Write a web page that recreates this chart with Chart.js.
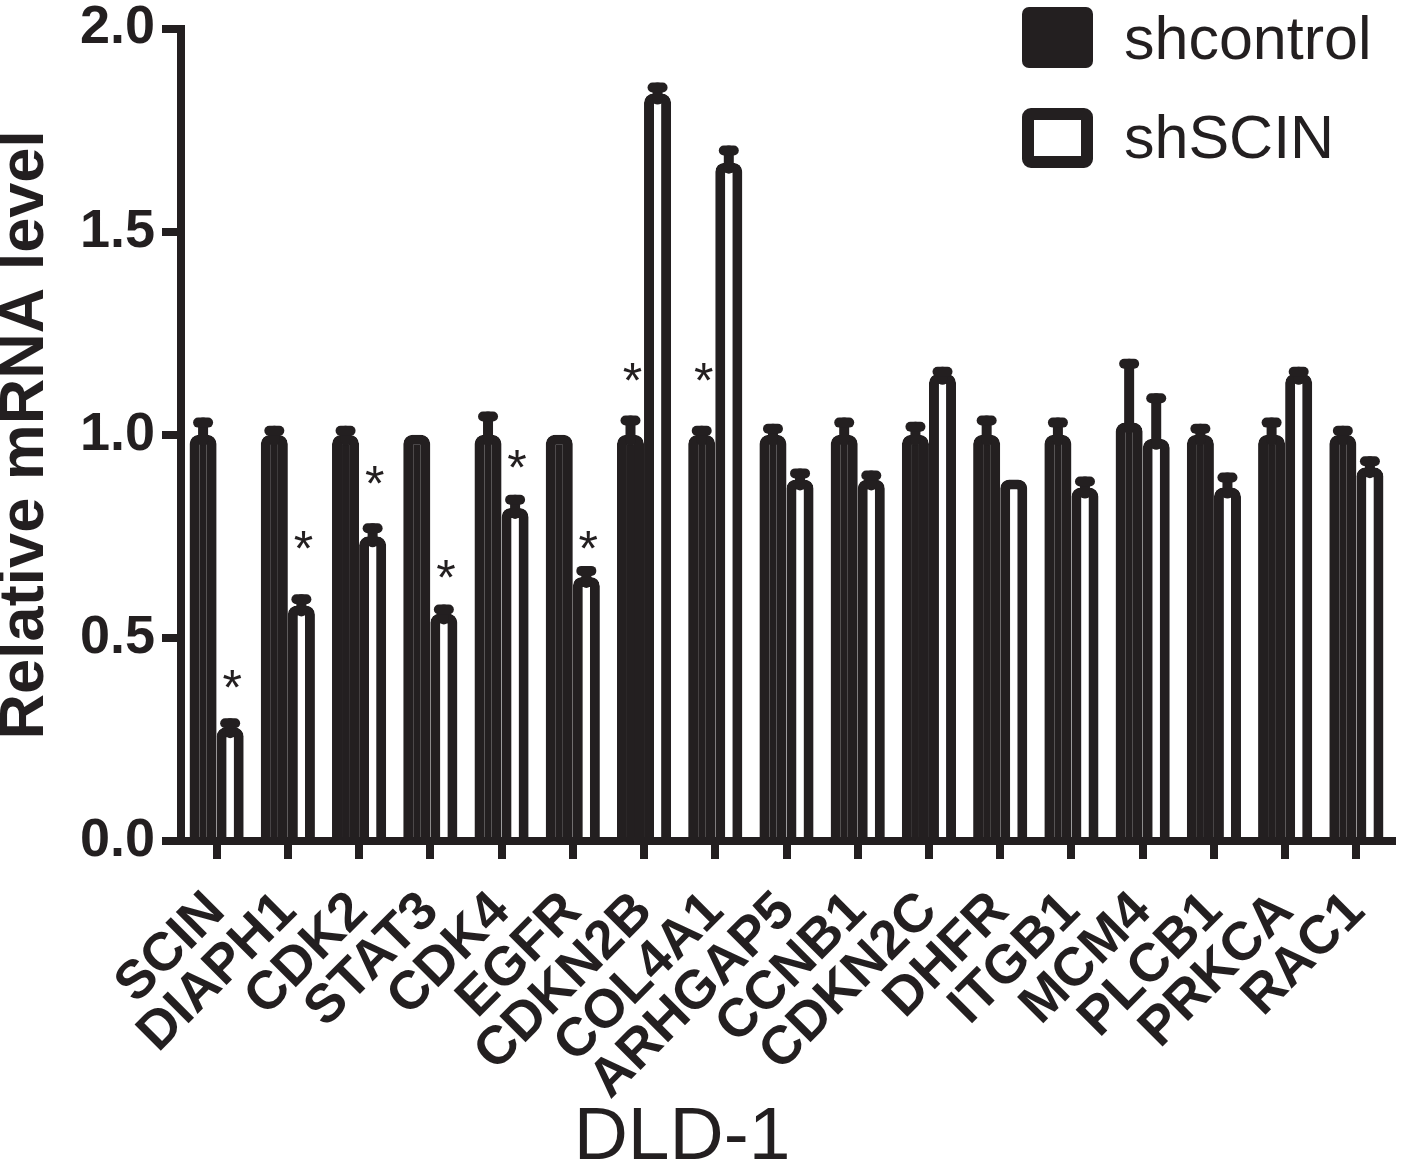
<!DOCTYPE html>
<html>
<head>
<meta charset="utf-8">
<script src="https://cdn.jsdelivr.net/npm/chart.js@4.4.1/dist/chart.umd.min.js"></script>
<style>
  html, body { margin: 0; padding: 0; background: #fff; }
  #wrap { position: relative; width: 1417px; height: 1161px; }
</style>
</head>
<body>
<div id="wrap"><canvas id="myChart"></canvas></div>
<script>
// values (relative mRNA level, DLD-1 cells)
const genes = ['SCIN', 'DIAPH1', 'CDK2', 'STAT3', 'CDK4', 'EGFR', 'CDKN2B', 'COL4A1', 'ARHGAP5',
  'CCNB1', 'CDKN2C', 'DHFR', 'ITGB1', 'MCM4', 'PLCB1', 'PRKCA', 'RAC1'];
const shcontrol = [1.0, 1.0, 1.0, 1.0, 1.0, 1.0, 1.0, 1.0, 1.0, 1.0, 1.0, 1.0, 1.0, 1.03, 1.0, 1.0, 1.0];
const shcontrolErr = [0.03, 0.01, 0.01, 0, 0.045, 0, 0.035, 0.01, 0.015, 0.03, 0.02, 0.035, 0.03, 0.145, 0.015, 0.03, 0.01];
const shSCIN = [0.28, 0.58, 0.75, 0.56, 0.82, 0.65, 1.84, 1.67, 0.89, 0.89, 1.15, 0.89, 0.87, 0.99, 0.87, 1.15, 0.92];
const shSCINErr = [0.01, 0.015, 0.02, 0.01, 0.02, 0.015, 0.015, 0.03, 0.015, 0.01, 0.005, 0, 0.015, 0.10, 0.025, 0.005, 0.015];
// which bar carries the asterisk (0 = shcontrol, 1 = shSCIN, -1 = none) and its height
const starBar = [1, 1, 1, 1, 1, 1, 0, 0, -1, -1, -1, -1, -1, -1, -1, -1, -1];
const starLevel = [0.40, 0.74, 0.90, 0.67, 0.94, 0.74, 1.155, 1.155, null, null, null, null, null, null, null, null, null];
const yTicks = [0, 0.5, 1.0, 1.5, 2.0];

const INK = '#231f20';
const FONT = "'Liberation Sans', Arial, sans-serif";

const errorBars = {
  id: 'errorBars',
  afterDatasetsDraw(chart) {
    const ctx = chart.ctx;
    const y = chart.scales.y;
    chart.data.datasets.forEach((ds, i) => {
      const meta = chart.getDatasetMeta(i);
      meta.data.forEach((bar, j) => {
        const err = ds.errors[j];
        if (!err) return;
        const yTop = y.getPixelForValue(ds.data[j] + err);
        ctx.save();
        ctx.strokeStyle = INK;
        ctx.lineCap = 'round';
        ctx.lineWidth = 10;
        ctx.beginPath();
        ctx.moveTo(bar.x, bar.y + 6);
        ctx.lineTo(bar.x, yTop);
        ctx.stroke();
        ctx.beginPath();
        ctx.moveTo(bar.x - 5, yTop);
        ctx.lineTo(bar.x + 5, yTop);
        ctx.stroke();
        ctx.restore();
      });
    });
  }
};

const extras = {
  id: 'extras',
  afterDraw(chart) {
    const ctx = chart.ctx;
    const y = chart.scales.y;
    ctx.save();
    ctx.fillStyle = INK;
    // asterisks
    ctx.font = '50px ' + FONT;
    ctx.textAlign = 'center';
    ctx.textBaseline = 'alphabetic';
    const m = ctx.measureText('*');
    const shift = (m.actualBoundingBoxAscent - m.actualBoundingBoxDescent) / 2;
    starBar.forEach((b, j) => {
      if (b < 0) return;
      const bar = chart.getDatasetMeta(b).data[j];
      ctx.fillText('*', bar.x + 2, y.getPixelForValue(starLevel[j]) + shift);
    });
    // legend
    const ds = chart.data.datasets;
    ctx.beginPath();
    ctx.roundRect(1022, 7, 71, 61, 7);
    ctx.fillStyle = ds[0].backgroundColor;
    ctx.fill();
    ctx.beginPath();
    ctx.roundRect(1028, 114, 59, 48, 3);
    ctx.fillStyle = ds[1].backgroundColor;
    ctx.fill();
    ctx.lineWidth = 12;
    ctx.strokeStyle = ds[1].borderColor;
    ctx.stroke();
    ctx.fillStyle = INK;
    ctx.font = '61px ' + FONT;
    ctx.textAlign = 'left';
    ctx.fillText(ds[0].label, 1124, 59);
    ctx.fillText(ds[1].label, 1124, 158);
    // cell line label under the gene names
    ctx.font = '75px ' + FONT;
    ctx.textAlign = 'center';
    ctx.fillText('DLD-1', 682, 1159);
    ctx.restore();
  }
};

new Chart(document.getElementById('myChart'), {
  type: 'bar',
  data: {
    labels: genes,
    datasets: [
      {
        label: 'shcontrol',
        data: shcontrol,
        errors: shcontrolErr,
        backgroundColor: INK,
        borderColor: INK,
        borderWidth: 10,
        borderRadius: 9,
        categoryPercentage: 0.76,
        barPercentage: 1.0
      },
      {
        label: 'shSCIN',
        data: shSCIN,
        errors: shSCINErr,
        backgroundColor: '#ffffff',
        borderColor: INK,
        borderWidth: 10,
        borderRadius: 9,
        categoryPercentage: 0.76,
        barPercentage: 1.0
      }
    ]
  },
  options: {
    responsive: true,
    maintainAspectRatio: false,
    animation: false,
    layout: { padding: { top: 22, right: 25, bottom: 0, left: 0 } },
    plugins: {
      legend: { display: false },
      tooltip: { enabled: false }
    },
    scales: {
      x: {
        z: 1,
        afterFit(scale) { scale.height = 320; },
        grid: {
          offset: false,
          drawOnChartArea: false,
          drawTicks: true,
          tickLength: 18,
          lineWidth: 8,
          color: INK
        },
        border: { display: true, width: 8, color: INK },
        ticks: {
          autoSkip: false,
          minRotation: 45,
          maxRotation: 45,
          padding: 38,
          color: INK,
          font: { family: FONT, size: 54, weight: 'bold', lineHeight: 0.3 }
        }
      },
      y: {
        z: 1,
        min: 0,
        max: 2,
        afterFit(scale) { scale.width = 181; },
        afterBuildTicks(scale) { scale.ticks = yTicks.map(v => ({ value: v })); },
        grid: {
          drawOnChartArea: false,
          drawTicks: true,
          tickLength: 19,
          lineWidth: 8,
          color: INK
        },
        border: { display: true, width: 8, color: INK },
        ticks: {
          padding: 7,
          color: INK,
          font: { family: FONT, size: 54, weight: 'bold', lineHeight: 0.8 },
          callback: v => v.toFixed(1)
        },
        title: {
          display: true,
          text: 'Relative mRNA level',
          color: INK,
          padding: 0,
          font: { family: FONT, size: 63, weight: 'bold', lineHeight: 0.8 }
        }
      }
    }
  },
  plugins: [errorBars, extras]
});
</script>
</body>
</html>
